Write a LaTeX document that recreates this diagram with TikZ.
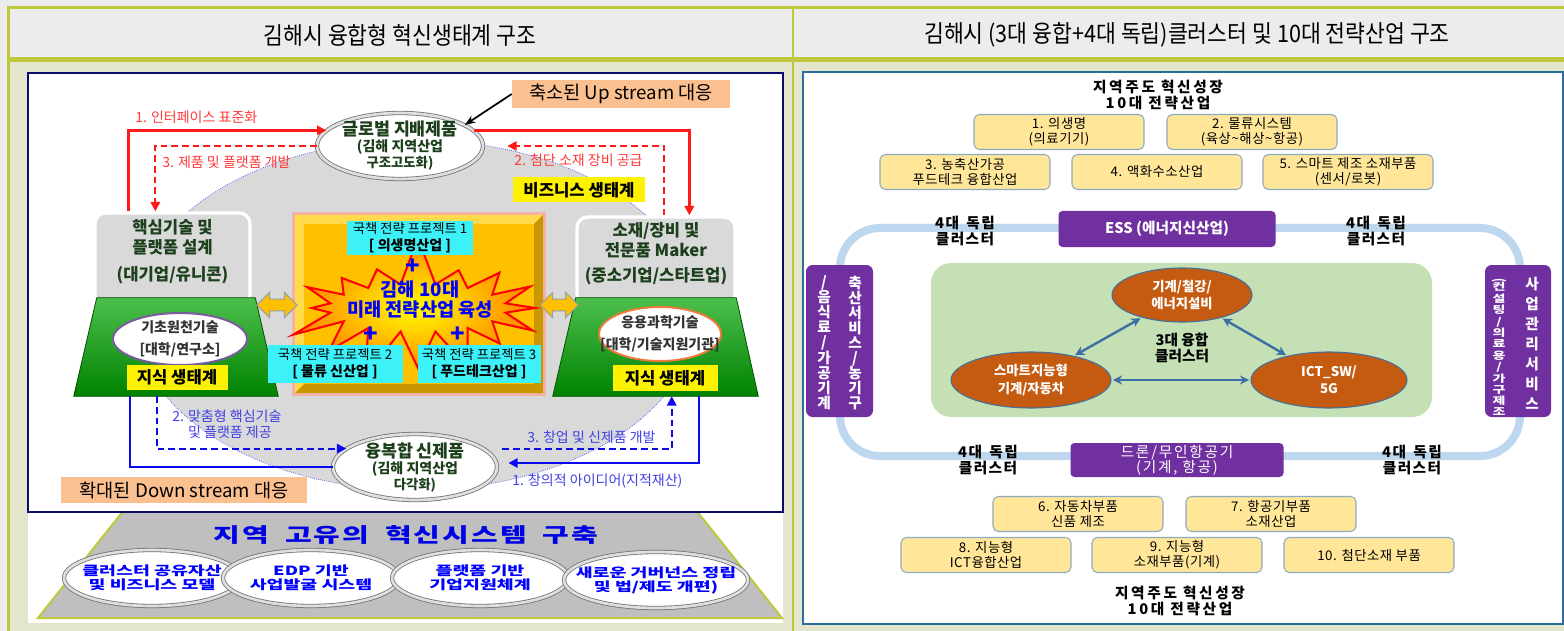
\documentclass[tikz,border=0pt]{standalone}
\usepackage{fontspec}
\usepackage{graphicx}
\setmainfont{Noto Sans CJK KR}
\newfontfamily\headfont[FakeStretch=0.9]{Noto Sans CJK KR}
\newfontfamily\widefont[FakeStretch=1.45]{Noto Sans CJK KR}
\usetikzlibrary{positioning,calc,fit,shapes.geometric,shapes.symbols,shapes.arrows,arrows.meta}
\newcommand{\fsz}[2]{\fontsize{#1}{#2}\selectfont}
\definecolor{pagegray}{HTML}{ECECEC}
\definecolor{bodybg}{HTML}{E3E6CB}
\definecolor{olivebar}{HTML}{BFC83C}
\definecolor{navyline}{HTML}{0A0A6E}
\definecolor{peach}{HTML}{FBC08F}
\definecolor{ecogray}{HTML}{D9D9D9}
\definecolor{pyrgray}{HTML}{BFBFBF}
\definecolor{gold}{HTML}{FFC000}
\definecolor{goldlight}{HTML}{FFDA4A}
\definecolor{golddark}{HTML}{C99700}
\definecolor{glow}{HTML}{F2B2AA}
\definecolor{cyanbox}{HTML}{3CF2F8}
\definecolor{darkgreen}{HTML}{1C3F1C}
\definecolor{leaf}{HTML}{00A300}
\definecolor{lilac}{HTML}{7A5C9E}
\definecolor{coral}{HTML}{EE7B3C}
\definecolor{redline}{HTML}{FF1A1A}
\definecolor{redtext}{HTML}{FF3B3B}
\definecolor{blueline}{HTML}{0A0AF0}
\definecolor{bluetext}{HTML}{4040E6}
\definecolor{steel}{HTML}{2C6E9E}
\definecolor{loopblue}{HTML}{BDD7EE}
\definecolor{indpurple}{HTML}{7030A0}
\definecolor{mint}{HTML}{C5E0B4}
\definecolor{rust}{HTML}{C55A11}
\definecolor{ringblue}{HTML}{41719C}
\definecolor{sand}{HTML}{FFE699}
\definecolor{boxedge}{HTML}{8FAAC4}
\definecolor{arrblue}{HTML}{3D6FA6}

\begin{document}
\begin{tikzpicture}[x=0.75pt,y=0.75pt,yscale=-1,xscale=1,
    headtxt/.style={inner sep=0pt, font=\headfont\fsz{18}{20}},
    disc/.style={ellipse, fill=white, draw=black!55, line width=0.6pt, double=gray!25, double distance=2pt, inner sep=0pt},
    disctxt/.style={align=center, text=darkgreen, font=\bfseries},
    greybox/.style={rounded corners=8pt, fill=ecogray, draw=white, line width=2.5pt, inner sep=0pt, align=center, text=darkgreen, font=\fsz{12.5}{15}\bfseries},
    tag/.style={fill=peach, inner sep=0pt, font=\fsz{14}{16}},
    yellowtag/.style={fill=yellow, inner sep=0pt, font=\fsz{12.5}{14}\bfseries},
    project/.style={fill=cyanbox, inner sep=0pt, align=center, font=\fsz{10}{13}},
    plusmark/.style={inner sep=0pt, text=blue, font=\fsz{18}{18}\bfseries},
    knowbase/.style={top color=leaf!70!white, bottom color=leaf!80!black, draw=leaf!50!black, line width=0.6pt},
    basetxt/.style={align=center, text=black!80, font=\fsz{10.5}{15}\bfseries},
    twoway/.style={double arrow, fill=gold, draw=gray!75, line width=0.8pt, inner sep=4pt, double arrow head extend=5pt, double arrow head indent=0pt},
    redsolid/.style={draw=redline, line width=1.8pt, -{Triangle[length=7pt,width=7pt]}},
    reddashed/.style={redsolid, line width=1.5pt, dash pattern=on 5pt off 3pt},
    bluesolid/.style={draw=blueline, line width=1.8pt, -{Triangle[length=7pt,width=7pt]}},
    bluedashed/.style={bluesolid, line width=1.5pt, dash pattern=on 5pt off 3pt},
    redtxt/.style={inner sep=0pt, text=redtext, font=\fsz{10.5}{12}},
    bluetxt/.style={inner sep=0pt, text=bluetext, font=\fsz{10.5}{11.5}},
    systxt/.style={align=center, text=blue, font=\widefont\fsz{9.5}{10.5}\bfseries},
    rtitle/.style={align=center, inner sep=0pt, font=\fsz{11}{12}\bfseries\addfontfeature{LetterSpace=18}},
    indtxt/.style={align=center, inner sep=0pt, font=\fsz{11}{11.5}\bfseries\addfontfeature{LetterSpace=10}},
    cluster/.style={fill=indpurple, text=white, rounded corners=3pt, inner sep=0pt, align=center},
    vcol/.style={text=white, align=center, inner sep=0pt, font=\fsz{11}{11.25}\bfseries},
    core3/.style={ellipse, fill=rust, draw=ringblue, line width=0.8pt, text=white, align=center, inner sep=0pt, font=\fsz{10}{13}\bfseries},
    fuselink/.style={draw=arrblue, line width=1.8pt, {Stealth[length=7pt,width=7pt]}-{Stealth[length=7pt,width=7pt]}, shorten >=1pt, shorten <=1pt},
    indbox/.style={rounded corners=4pt, fill=sand, draw=boxedge, line width=0.8pt, minimum width=127.5pt, minimum height=26.25pt, inner sep=0pt, align=center, font=\fsz{10}{11}\addfontfeature{LetterSpace=4}}]

\useasboundingbox (0,0) rectangle (1564,631);
\fill[pagegray] (0,0) rectangle (1564,631);
\fill[bodybg] (9,62) rectangle (1564,631);
\fill[olivebar] (7,6) rectangle (1564,9);
\fill[olivebar] (7,57) rectangle (1564,62);
\fill[olivebar] (7,6) rectangle (10,631);
\fill[olivebar] (792,6) rectangle (794,631);

\node[headtxt] (lhead) at (400,35) {김해시 융합형 혁신생태계 구조};
\node[headtxt] (rhead) at (1187,35) {김해시 (3대 융합+4대 독립)클러스터 및 10대 전략산업 구조};

\fill[white] (28,73) rectangle (783,623);
\filldraw[fill=pyrgray, draw=olivebar, line width=1.5pt] (128,505) -- (692,505) -- (782,618) -- (38,618) -- cycle;
\draw[navyline, line width=1.8pt, fill=white] (28,73) rectangle (783,512);
\draw[fill=ecogray, draw=blue!75, densely dotted, line width=0.5pt] (415,315) ellipse [x radius=281, y radius=175];

\node[disc, minimum width=124.5pt, minimum height=49.5pt, label={[disctxt]center:{\fsz{13}{15}글로벌 지배제품\\\fsz{10.5}{13}(김해 지역산업\\구조고도화)}}] (glob) at (400,146) {};
\node[tag, minimum width=163.5pt, minimum height=21pt] (upbox) at (621,94) {축소된 Up stream 대응};
\draw[-{Stealth[length=8pt,width=6pt]}, line width=1.3pt] (upbox.west) -- (glob.18);
\node[yellowtag, minimum width=99pt, minimum height=18.75pt] (biz) at (579,190) {비즈니스 생태계};

\node[greybox, fit={(95,213)(250,305)}] (core) {핵심기술 및\\플랫폼 설계\\[5pt](대기업/유니콘)};
\node[greybox, fit={(577,217)(735,305)}] (mat) {소재/장비 및\\전문품 Maker\\[4pt](중소기업/스타트업)};

\node[fit={(74,298)(278,396)}, inner sep=0pt] (lknow) {};
\shade[knowbase] (lknow.south west) -- ($(lknow.north west)+(23,0)$) -- ($(lknow.north east)+(-23,0)$) -- (lknow.south east) -- cycle;
\node[ellipse, fill=white, draw=lilac, line width=1.5pt, minimum width=100.5pt, minimum height=39pt, inner sep=0pt, label={[basetxt]center:{기초원천기술\\[2pt][대학/연구소]}}] (lbase) at (180,339) {};
\node[yellowtag, minimum width=75.75pt, minimum height=18.75pt] (lkey) at (177,377) {지식 생태계};
\node[fit={(553,298)(758,396)}, inner sep=0pt] (rknow) {};
\shade[knowbase] (rknow.south west) -- ($(rknow.north west)+(23,0)$) -- ($(rknow.north east)+(-22,0)$) -- (rknow.south east) -- cycle;
\node[ellipse, fill=white, draw=coral, line width=1.5pt, minimum width=91.5pt, minimum height=40.5pt, inner sep=0pt, label={[basetxt]center:{응용과학기술\\[2pt][대학/기술지원기관]}}] (rbase) at (660,334) {};
\node[yellowtag, minimum width=78.75pt, minimum height=19.5pt] (rkey) at (665,378) {지식 생태계};

\node[fit={(295,215)(543,393)}, inner sep=0pt, outer sep=0pt, fill=gold, draw=glow, line width=4pt] (hub) {};
\fill[goldlight] (hub.north west) -- (hub.north east) -- ($(hub.north east)+(-9,9)$) -- ($(hub.north west)+(9,9)$) -- ($(hub.south west)+(9,-9)$) -- (hub.south west) -- cycle;
\fill[golddark] (hub.south east) -- (hub.north east) -- ($(hub.north east)+(-9,9)$) -- ($(hub.south east)+(-9,-9)$) -- ($(hub.south west)+(9,-9)$) -- (hub.south west) -- cycle;
\node[starburst, starburst points=16, starburst point height=38pt, random starburst=7, minimum width=210pt, minimum height=112pt, inner color=yellow, outer color=orange, draw=red, line width=1.5pt] (burst) at (418,308) {};
\node[align=center, inner sep=0pt, text=blue, font=\fsz{14}{15}\bfseries] (goal) at (420,300) {김해 10대\\미래 전략산업 육성};
\node[project, minimum width=94.5pt, minimum height=24.75pt] (proj1) at (410,238) {국책 전략 프로젝트 1\\{\fsz{10.5}{13}\bfseries [ 의생명산업 ]}};
\node[project, minimum width=101.25pt, minimum height=28.5pt] (proj2) at (335,364) {국책 전략 프로젝트 2\\{\fsz{10.5}{13}\bfseries [ 물류 신산업 ]}};
\node[project, minimum width=92.25pt, minimum height=28.5pt] (proj3) at (479,364) {국책 전략 프로젝트 3\\{\fsz{10.5}{13}\bfseries [ 푸드테크산업 ]}};
\node[plusmark] (plus1) at (413,267) {+};
\node[plusmark] (plus2) at (371,335) {+};
\node[plusmark] (plus3) at (458,335) {+};
\node[twoway, minimum height=30pt] (lflow) at (277,305) {};
\node[twoway, minimum height=28.5pt] (rflow) at (559,305) {};

\node[disc, minimum width=123pt, minimum height=49.5pt, label={[disctxt]center:{\fsz{13}{15}융복합 신제품\\\fsz{10.5}{13}(김해 지역산업\\다각화)}}] (newprod) at (415,467) {};

\draw[redsolid] ($(core.north west)+(35,0)$) |- (glob.168);
\draw[reddashed] (glob.west) -| ($(core.north west)+(62,0)$);
\draw[redsolid] (glob.12) -| ($(mat.north west)+(114,0)$);
\draw[reddashed] ($(mat.north west)+(89,0)$) |- ($(glob.east)+(24,0)$);
\node[redtxt, anchor=west] (stdlbl) at (135,117) {1. 인터페이스 표준화};
\node[redtxt, anchor=west] (devlbl) at (162,162) {3. 제품 및 플랫폼 개발};
\node[redtxt, anchor=west] (supplbl) at (514,160) {2. 첨단 소재 장비 공급};

\draw[bluesolid, -] ($(lknow.south west)+(56,0)$) |- (newprod.west);
\draw[bluedashed] ($(lknow.south west)+(83,0)$) |- (newprod.165);
\draw[bluesolid] ($(rknow.south west)+(146,0)$) |- ($(newprod.east)+(11,-4)$);
\draw[bluedashed] ($(newprod.east)+(5,-18)$) -| ($(rknow.south west)+(119,0)$);
\node[bluetxt, anchor=north west, align=left] (techlbl) at (172,410) {2. 맞춤형 핵심기술\\\phantom{2. }및 플랫폼 제공};
\node[bluetxt, anchor=west] (startlbl) at (527,437) {3. 창업 및 신제품 개발};
\node[bluetxt, anchor=west] (idealbl) at (512,481) {1. 창의적 아이디어(지적재산)};
\node[tag, minimum width=184.5pt, minimum height=19.5pt] (downbox) at (184,490) {확대된 Down stream 대응};

\node[inner sep=0pt, text=blue!90!black, font=\widefont\fsz{15}{16}\bfseries\addfontfeature{LetterSpace=10}] (systitle) at (406,535) {지역\hspace{12pt}고유의\hspace{12pt}혁신시스템\hspace{12pt}구축};
\node[disc, minimum width=132pt, minimum height=42pt, label={[systxt]center:{클러스터 공유자산\\및 비즈니스 모델}}] (sys1) at (152,578) {};
\node[disc, minimum width=132pt, minimum height=42pt, label={[systxt]center:{EDP 기반\\사업발굴 시스템}}] (sys2) at (311,578) {};
\node[disc, minimum width=132pt, minimum height=42pt, label={[systxt]center:{플랫폼 기반\\기업지원체계}}] (sys3) at (480,578) {};
\node[disc, minimum width=138pt, minimum height=42pt, label={[systxt]center:{새로운 거버넌스 정립\\및 법/제도 개편)}}] (sys4) at (656,580) {};

\draw[steel, line width=1.5pt, fill=white] (803,72) rectangle (1563,624);
\node[rtitle] (toptitle) at (1158,95) {지역주도 혁신성장\\10대 전략산업};
\node[indbox] (ind1) at (1059,132) {1. 의생명\\(의료기기)};
\node[indbox] (ind2) at (1252,132) {2. 물류시스템\\(육상\textasciitilde 해상\textasciitilde 항공)};
\node[indbox] (ind3) at (965,172) {3. 농축산가공\\푸드테크 융합산업};
\node[indbox] (ind4) at (1157,172) {4. 액화수소산업};
\node[indbox] (ind5) at (1348,172) {5. 스마트 제조 소재부품\\(센서/로봇)};

\draw[loopblue, line width=6pt, rounded corners=30pt] (840,228) rectangle (1520,456);
\node[cluster, minimum width=162.75pt, minimum height=27pt, font=\fsz{11}{13}\bfseries] (ess) at (1167,229) {ESS (에너지신산업)};
\node[cluster, minimum width=159.75pt, minimum height=25.5pt, font=\fsz{11}{11.5}\addfontfeature{LetterSpace=12}] (drone) at (1177,460) {드론/무인항공기\\(기계, 항공)};
\node[indtxt] (indnw) at (965,231) {4대\enspace 독립\\클러스터};
\node[indtxt] (indne) at (1376,231) {4대\enspace 독립\\클러스터};
\node[indtxt] (indsw) at (988,460) {4대\enspace 독립\\클러스터};
\node[indtxt] (indse) at (1412,460) {4대\enspace 독립\\클러스터};

\node[cluster, minimum width=50.25pt, minimum height=114pt, rounded corners=5pt] (agrisvc) at (839.5,341) {};
\node[vcol] (agricol1) at (855,343) {축\\산\\서\\비\\스\\/\\농\\기\\구};
\node[vcol] (agricol2) at (824,343) {/\\음\\식\\료\\/\\가\\공\\기\\계};
\node[cluster, minimum width=49.5pt, minimum height=114pt, rounded corners=5pt] (mgmt) at (1518,341) {};
\node[vcol, font=\fsz{11}{15}\bfseries] (mgmtcol1) at (1532,343) {사\\업\\관\\리\\서\\비\\스};
\node[vcol, font=\fsz{10.5}{10.7}\bfseries] (mgmtcol2) at (1499,345) {\scalebox{1}[0.72]{\begin{tabular}{@{}c@{}}\rotatebox{-90}{(}\\컨\\설\\팅\\/\\의\\료\\용\\/\\가\\구\\제\\조\end{tabular}}};

\node[fit={(931,263)(1432,417)}, inner sep=0pt, rounded corners=15pt, fill=mint] (fusion) {};
\node[core3, minimum width=105pt, minimum height=40.5pt] (mach) at (1182,295) {기계/철강/\\에너지설비};
\node[core3, minimum width=120pt, minimum height=42pt] (agri) at (1031,380) {스마트지능형\\기계/자동차};
\node[core3, minimum width=117pt, minimum height=42pt] (ict) at (1329,380) {ICT\_SW/\\5G};
\draw[fuselink] (agri) -- (mach);
\draw[fuselink] (mach) -- (ict);
\draw[fuselink] (agri) -- (ict);
\node[align=center, inner sep=0pt, font=\fsz{11}{12}\bfseries] (fusetxt) at (1182,348) {3대 융합\\클러스터};

\node[indbox] (ind6) at (1078,514) {6. 자동차부품\\신품 제조};
\node[indbox] (ind7) at (1271,514) {7. 항공기부품\\소재산업};
\node[indbox] (ind8) at (986,555) {8. 지능형\\ICT융합산업};
\node[indbox] (ind9) at (1177,555) {9. 지능형\\소재부품(기계)};
\node[indbox] (ind10) at (1369,555) {10. 첨단소재 부품};
\node[rtitle] (bottitle) at (1180,601) {지역주도 혁신성장\\10대 전략산업};
\end{tikzpicture}
\end{document}
